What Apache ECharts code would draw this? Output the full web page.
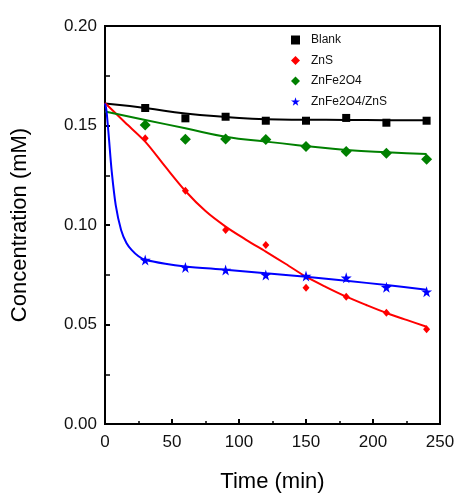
<!DOCTYPE html>
<html><head><meta charset="utf-8">
<script src="https://cdn.jsdelivr.net/npm/echarts@6/dist/echarts.min.js"></script>
<style>html,body{margin:0;padding:0;background:#fff}#c{width:458px;height:499px}</style>
</head><body><div id="c"></div>
<script>
// measured points
const times = [30, 60, 90, 120, 150, 180, 210, 240];
const blankPts = [0.1588, 0.1536, 0.1544, 0.1524, 0.1524, 0.1538, 0.1514, 0.1524];
const znsPts = [0.1436, 0.1172, 0.0975, 0.0900, 0.0685, 0.0640, 0.0559, 0.0476];
const znfePts = [0.1503, 0.1431, 0.1432, 0.1430, 0.1394, 0.1369, 0.1360, 0.1330];
const compPts = [0.0824, 0.0787, 0.0774, 0.0749, 0.0744, 0.0735, 0.0687, 0.0665];
// fitted curves
const blankFitT = [0, 30, 60, 90, 120, 150, 180, 210, 240];
const blankFit = [0.161, 0.1588, 0.1560, 0.1543, 0.1531, 0.1529, 0.1528, 0.1527, 0.1527];
const znfeFitT = [0, 30, 60, 90, 120, 150, 180, 210, 240];
const znfeFit = [0.157, 0.1528, 0.1486, 0.1444, 0.1419, 0.1397, 0.1377, 0.1365, 0.1357];
const znsFitT = [0, 15, 30, 45, 60, 75, 90, 105, 120, 135, 150, 165, 180, 195, 210, 225, 240];
const znsFit = [0.1613, 0.1515, 0.1419, 0.1293, 0.1171, 0.107, 0.0992, 0.0927, 0.0866, 0.0804, 0.074, 0.0688, 0.064, 0.0598, 0.0558, 0.0523, 0.0489];
const compFitT = [0, 1, 2, 3, 5, 8, 12, 16, 20, 25, 30, 45, 60, 90, 120, 150, 180, 210, 240];
const compFit = [0.161, 0.158, 0.151, 0.143, 0.127, 0.110, 0.0975, 0.091, 0.0874, 0.0843, 0.0825, 0.0805, 0.0792, 0.0775, 0.0757, 0.074, 0.072, 0.0698, 0.0675];
const names = ['Blank', 'ZnS', 'ZnFe2O4', 'ZnFe2O4/ZnS'];
const colors = ['#000000', '#ff0000', '#008000', '#0000ff'];

const zip = (t, v) => t.map((x, i) => [x, v[i]]);
const chart = echarts.init(document.getElementById('c'));
const tickLbl = {color: '#111', fontFamily: 'Arial, Liberation Sans', fontSize: 17};
const star = 'path://M50,0 L61,35 L98,35 L68,57 L79,91 L50,70 L21,91 L32,57 L2,35 L39,35 Z';
chart.setOption({
  animation: false,
  grid: {left: 105, right: 18, top: 26, bottom: 75, show: true, borderColor: '#000', borderWidth: 2},
  legend: {
    orient: 'vertical', left: 286, top: 29, itemGap: 8.5, itemWidth: 9, itemHeight: 9,
    data: [
      {name: names[0], icon: 'rect', itemStyle: {color: colors[0]}},
      {name: names[1], icon: 'diamond', itemStyle: {color: colors[1]}},
      {name: names[2], icon: 'diamond', itemStyle: {color: colors[2]}},
      {name: names[3], icon: star, itemStyle: {color: colors[3]}}
    ],
    textStyle: {fontFamily: 'Arial, Liberation Sans', fontSize: 12, color: '#111', padding: [0, 0, 0, 6]}
  },
  xAxis: {
    type: 'value', min: 0, max: 250, interval: 50,
    name: 'Time (min)', nameLocation: 'middle', nameGap: 47,
    nameTextStyle: {fontFamily: 'Arial, Liberation Sans', fontSize: 22, color: '#000'},
    axisLine: {lineStyle: {color: '#000', width: 2}},
    axisTick: {inside: true, length: 5, lineStyle: {color: '#000', width: 2}},
    minorTick: {show: true, splitNumber: 2, length: 3, lineStyle: {color: '#000', width: 1.5}},
    axisLabel: Object.assign({margin: 10}, tickLbl),
    splitLine: {show: false}
  },
  yAxis: {
    type: 'value', min: 0, max: 0.2, interval: 0.05,
    name: 'Concentration (mM)', nameLocation: 'middle', nameGap: 74,
    nameTextStyle: {fontFamily: 'Arial, Liberation Sans', fontSize: 22, color: '#000'},
    axisLine: {lineStyle: {color: '#000', width: 2}},
    axisTick: {inside: true, length: 5, lineStyle: {color: '#000', width: 2}},
    minorTick: {show: true, splitNumber: 2, length: 5, lineStyle: {color: '#000', width: 1.5}},
    axisLabel: Object.assign({margin: 8, formatter: v => v.toFixed(2)}, tickLbl),
    splitLine: {show: false}
  },
  series: [
    {type: 'line', data: zip(blankFitT, blankFit), smooth: true, showSymbol: false, lineStyle: {color: colors[0], width: 2}, z: 2},
    {type: 'line', data: zip(znsFitT, znsFit), smooth: 0.3, showSymbol: false, lineStyle: {color: colors[1], width: 2}, z: 2},
    {type: 'line', data: zip(znfeFitT, znfeFit), smooth: true, showSymbol: false, lineStyle: {color: colors[2], width: 2}, z: 2},
    {type: 'line', data: zip(compFitT, compFit), smooth: 0.3, showSymbol: false, lineStyle: {color: colors[3], width: 2}, z: 2},
    {name: names[0], type: 'scatter', data: zip(times, blankPts), symbol: 'rect', symbolSize: 8, itemStyle: {color: colors[0], opacity: 1}, z: 3},
    {name: names[1], type: 'scatter', data: zip(times, znsPts), symbol: 'diamond', symbolSize: [7, 8], itemStyle: {color: colors[1], opacity: 1}, z: 3},
    {name: names[2], type: 'scatter', data: zip(times, znfePts), symbol: 'diamond', symbolSize: [11, 11], itemStyle: {color: colors[2], opacity: 1}, z: 3},
    {name: names[3], type: 'scatter', data: zip(times, compPts), symbol: star, symbolSize: 11, itemStyle: {color: colors[3], opacity: 1}, z: 3}
  ]
});
</script></body></html>
